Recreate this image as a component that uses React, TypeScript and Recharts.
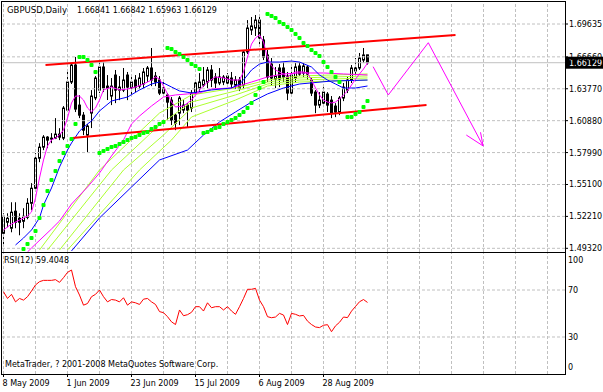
import React from 'react';
import { ComposedChart, Bar, Line, Scatter, XAxis, YAxis, ReferenceLine } from 'recharts';

const FONT = '"DejaVu Sans", Verdana, sans-serif';

// ---- candles (GBPUSD daily, bar index 0 = 8 May 2009) ----
const openP = [1.5068,1.5168,1.5114,1.5268,1.5204,1.5177,1.5213,1.5340,1.5476,1.5748,1.5848,1.5939,1.5921,1.5930,1.5966,1.5930,1.6184,1.6438,1.6592,1.6229,1.6138,1.5957,1.6157,1.6294,1.6365,1.6574,1.6383,1.6311,1.6501,1.6365,1.6365,1.6501,1.6383,1.6456,1.6401,1.6420,1.6492,1.6565,1.6492,1.6456,1.6338,1.6320,1.6274,1.6138,1.6156,1.6184,1.6229,1.6202,1.6338,1.6383,1.6410,1.6438,1.6547,1.6483,1.6429,1.6438,1.6492,1.6474,1.6410,1.6456,1.6410,1.6710,1.6909,1.6927,1.6999,1.6819,1.6683,1.6601,1.6465,1.6565,1.6565,1.6492,1.6338,1.6474,1.6583,1.6519,1.6574,1.6456,1.6347,1.6229,1.6247,1.6329,1.6274,1.6220,1.6166,1.6293,1.6365,1.6456,1.6538,1.6565,1.6637,1.66841];
const highP = [1.5249,1.5249,1.5349,1.5349,1.5249,1.5295,1.5386,1.5522,1.5794,1.5884,1.5957,1.5948,1.5975,1.6111,1.6020,1.6220,1.6547,1.6619,1.6665,1.6320,1.6166,1.6057,1.6365,1.6492,1.6619,1.6619,1.6501,1.6474,1.6547,1.6492,1.6565,1.6529,1.6483,1.6501,1.6519,1.6565,1.6583,1.6746,1.6529,1.6492,1.6438,1.6338,1.6302,1.6156,1.6311,1.6274,1.6247,1.6365,1.6456,1.6519,1.6574,1.6574,1.6592,1.6519,1.6565,1.6501,1.6519,1.6529,1.6492,1.6483,1.6728,1.6999,1.7027,1.7045,1.7045,1.6855,1.6728,1.6655,1.6574,1.6601,1.6619,1.6529,1.6583,1.6610,1.6619,1.6610,1.6592,1.6474,1.6365,1.6347,1.6392,1.6347,1.6311,1.6247,1.6311,1.6429,1.6483,1.6592,1.6655,1.6701,1.6746,1.66842];
const lowP = [1.4968,1.5123,1.5077,1.5114,1.5050,1.5114,1.5195,1.5277,1.5458,1.5712,1.5821,1.5839,1.5884,1.5921,1.5912,1.5912,1.6166,1.6420,1.6166,1.6111,1.5957,1.5803,1.6021,1.6274,1.6338,1.6347,1.6275,1.6229,1.6247,1.6274,1.6347,1.6274,1.6320,1.6347,1.6374,1.6383,1.6438,1.6401,1.6401,1.6320,1.6311,1.6093,1.6048,1.6002,1.6048,1.6156,1.6030,1.6166,1.6302,1.6347,1.6392,1.6383,1.6392,1.6383,1.6410,1.6410,1.6401,1.6383,1.6374,1.6356,1.6374,1.6692,1.6864,1.6855,1.6773,1.6637,1.6438,1.6410,1.6383,1.6392,1.6438,1.6274,1.6311,1.6438,1.6492,1.6483,1.6456,1.6311,1.6156,1.6202,1.6211,1.6166,1.6111,1.6120,1.6138,1.6265,1.6338,1.6429,1.6510,1.6547,1.6610,1.65963];
const closeP = [1.5222,1.5204,1.5259,1.5168,1.5168,1.5222,1.5340,1.5476,1.5748,1.5848,1.5939,1.5912,1.5930,1.5966,1.5939,1.6202,1.6438,1.6592,1.6193,1.6138,1.6002,1.6039,1.6311,1.6474,1.6574,1.6383,1.6401,1.6401,1.6365,1.6392,1.6456,1.6392,1.6438,1.6392,1.6474,1.6529,1.6565,1.6456,1.6438,1.6338,1.6383,1.6256,1.6093,1.6066,1.6293,1.6229,1.6184,1.6338,1.6429,1.6438,1.6456,1.6547,1.6456,1.6429,1.6483,1.6483,1.6429,1.6420,1.6456,1.6383,1.6710,1.6927,1.6946,1.6999,1.6837,1.6664,1.6483,1.6474,1.6492,1.6465,1.6483,1.6338,1.6501,1.6574,1.6510,1.6583,1.6510,1.6338,1.6229,1.6274,1.6347,1.6229,1.6156,1.6166,1.6293,1.6392,1.6456,1.6565,1.6565,1.6655,1.6683,1.66129];

// ---- indicator lines: [bar index, price] ----
const maFast = [[0,1.5098],[2,1.5152],[4,1.5188],[6,1.5225],[7,1.5261],[8,1.5388],[9,1.5569],[10,1.5732],[11,1.5859],[12,1.5913],[13,1.5931],[14,1.5958],[15,1.6004],[16,1.6112],[17,1.6248],[18,1.6311],[19,1.6311],[20,1.6275],[21,1.6203],[22,1.6167],[23,1.6203],[24,1.6275],[25,1.6366],[27,1.6393],[29,1.6366],[31,1.6375],[33,1.6393],[35,1.6420],[37,1.6456],[38,1.6484],[39,1.6465],[40,1.6402],[41,1.6330],[42,1.6257],[43,1.6212],[45,1.6221],[47,1.6275],[49,1.6366],[51,1.6438],[53,1.6484],[55,1.6475],[57,1.6456],[59,1.6456],[60,1.6529],[61,1.6665],[62,1.6782],[63,1.6837],[64,1.6864],[65,1.6801],[66,1.6656],[67,1.6583],[68,1.6547],[70,1.6511],[71,1.6484],[72,1.6511],[73,1.6529],[75,1.6529],[76,1.6520],[77,1.6456],[78,1.6384],[79,1.6321],[80,1.6275],[81,1.6257],[82,1.6248],[83,1.6257],[84,1.6284],[85,1.6321],[86,1.6357],[87,1.6411],[88,1.6465],[89,1.6511],[90,1.6556],[91,1.6610]];
const maBlueFast = [[3,1.4962],[5,1.5025],[7,1.5098],[9,1.5207],[10,1.5324],[12,1.5478],[14,1.5668],[16,1.5822],[17,1.5886],[19,1.5994],[21,1.6058],[22,1.6085],[24,1.6176],[27,1.6266],[31,1.6302],[34,1.6366],[37,1.6420],[39,1.6438],[40,1.6429],[42,1.6393],[44,1.6357],[47,1.6339],[52,1.6366],[57,1.6384],[59,1.6420],[60,1.6456],[62,1.6547],[64,1.6601],[66,1.6619],[69,1.6619],[72,1.6628],[74,1.6619],[77,1.6574],[79,1.6502],[81,1.6456],[83,1.6420],[85,1.6384],[88,1.6384],[91,1.6402]];
const maSlowMagenta = [[6,1.4899],[7,1.4935],[12,1.5107],[14,1.5179],[17,1.5333],[21,1.5487],[24,1.5614],[27,1.5768],[30,1.5913],[32,1.6058],[34,1.6130],[37,1.6221],[40,1.6302],[43,1.6321],[46,1.6330],[49,1.6339],[52,1.6375],[57,1.6384],[62,1.6438],[66,1.6484],[70,1.6511],[74,1.6520],[80,1.6520],[85,1.6511],[91,1.6502]];
const maSlowBlue = [[17,1.4908],[24,1.5207],[32,1.5487],[39,1.5732],[46,1.5822],[50,1.5958],[54,1.6076],[58,1.6167],[62,1.6257],[66,1.6330],[70,1.6384],[74,1.6420],[82,1.6447],[91,1.6456]];
const ygA = [[9,1.4917],[24,1.5641],[39,1.6157],[47,1.6321],[58,1.6384],[66,1.6456],[74,1.6493],[91,1.6511]];
const ygB = [[11,1.4917],[27,1.5641],[39,1.6049],[47,1.6257],[58,1.6357],[66,1.6438],[74,1.6475],[91,1.6493]];
const ygC = [[14,1.4917],[30,1.5641],[40,1.5958],[47,1.6203],[58,1.6321],[66,1.6420],[74,1.6456],[91,1.6475]];
const ygD = [[16,1.4917],[34,1.5641],[42,1.5913],[47,1.6121],[58,1.6275],[66,1.6402],[74,1.6438],[91,1.6456]];

// ---- parabolic SAR: [bar index, price] ----
const sarPts = [[5,1.4926],[6,1.4971],[7,1.5025],[8,1.5089],[9,1.5207],[10,1.5324],[11,1.5451],[12,1.5551],[13,1.5632],[14,1.5723],[15,1.5795],[16,1.5859],[17,1.5922],[18,1.6058],
[19,1.6665],[20,1.6665],[21,1.6637],[22,1.6592],[23,1.6529],
[24,1.5795],[25,1.5813],[26,1.5831],[27,1.5850],[28,1.5859],[29,1.5877],[30,1.5895],[31,1.5913],[32,1.5931],[33,1.5940],[34,1.5958],[35,1.5976],[36,1.5985],[37,1.6013],[38,1.6031],[39,1.6058],[40,1.6076],
[41,1.6746],[42,1.6737],[43,1.6710],[44,1.6692],[45,1.6665],[46,1.6637],[47,1.6601],[48,1.6583],[49,1.6556],
[50,1.5976],[51,1.5985],[52,1.6004],[53,1.6022],[54,1.6031],[55,1.6058],[56,1.6076],[57,1.6094],[58,1.6112],[59,1.6139],[60,1.6167],[61,1.6203],[62,1.6248],[63,1.6321],[64,1.6384],[65,1.6438],
[66,1.7054],[67,1.7036],[68,1.7018],[69,1.6982],[70,1.6964],[71,1.6936],[72,1.6909],[73,1.6873],[74,1.6837],[75,1.6792],[76,1.6764],[77,1.6728],[78,1.6701],[79,1.6674],[80,1.6619],[81,1.6574],[82,1.6529],[83,1.6484],[84,1.6438],
[86,1.6121],[87,1.6121],[88,1.6148],[89,1.6167],[90,1.6212],[91,1.6266]];

// ---- channel and forecast ----
const channelUpper = [[10.5,1.6592],[113,1.6864]];
const channelLower = [[17.25,1.5931],[105.75,1.6230]];
const forecastPath = [[92.4,1.6577],[96.2,1.6321],[106.2,1.6794],[119.9,1.5859]];
const arrowWingA = [[115.7,1.5958],[119.9,1.5859]];
const arrowWingB = [[119.25,1.5983],[119.9,1.5859]];

// ---- RSI(12) ----
const rsiValues = [68.5,62.8,66.3,59.9,62.8,61.4,64.3,69.1,74.3,77.1,78.2,78.2,78.2,78.8,76.5,80.5,85.0,87.0,72.8,65.7,57.1,58.5,64.3,66.3,70.0,64.3,59.9,61.9,61.4,59.9,63.4,57.1,59.9,59.1,57.7,62.2,62.8,59.9,57.7,51.6,50.7,47.3,42.9,40.6,53.0,48.1,49.0,51.0,55.8,55.8,52.1,59.1,54.9,55.8,55.8,53.0,55.8,52.1,49.3,55.8,62.8,70.6,70.6,71.4,61.4,55.8,47.3,46.4,47.0,50.1,48.7,40.6,50.1,49.3,47.9,48.4,43.5,40.6,38.5,38.0,40.0,40.5,34.5,39.5,42.5,47.0,46.5,52.0,56.0,60.0,61.9,59.4048];

// ---- axes ----
const priceTicks = [1.4932, 1.5221, 1.551, 1.5799, 1.6088, 1.6377, 1.6666, 1.69635];
const gridIdx = [0,8,16,24,32,40,48,56,64,72,80,88,96,104,112,120,128,136];
const dateIdx = [0,16,32,48,64,80];
const dateLabels = ['8 May 2009','1 Jun 2009','23 Jun 2009','15 Jul 2009','6 Aug 2009','28 Aug 2009'];
const rsiTicks = [0,30,70,100];
const rsiLevels = [30,70];

const X_DOMAIN: [number, number] = [-0.375, 140.375];
const PRICE_DOMAIN: [number, number] = [1.48985, 1.71628];
const RSI_DOMAIN: [number, number] = [-1.49, 101.49];

const toPts = (arr: number[][]) => arr.map(([i, v]) => ({ i, v }));
const candles = openP.map((o, i) => ({ i, o, h: highP[i], l: lowP[i], c: closeP[i], range: [lowP[i], highP[i]] }));
const rsiData = rsiValues.map((v, i) => ({ i, v }));
const lastClose = closeP[closeP.length - 1];

const GRID = '#c0c0c0';
const DASH = '3 2';

const Candle = (props: any) => {
  const { x, y, width, height, payload } = props;
  if (x == null || !isFinite(x) || !payload) return null;
  const { o, h, l, c } = payload;
  const top = Math.min(y, y + height);
  const bot = Math.max(y, y + height);
  const span = h - l;
  const py = (v: number) => (span === 0 ? top : top + ((h - v) / span) * (bot - top));
  const cx = Math.floor(x + width / 2) + 0.5;
  const bTop = py(Math.max(o, c));
  const bBot = py(Math.min(o, c));
  const bull = c >= o;
  return (
    <g>
      <line x1={cx} x2={cx} y1={top} y2={bot} stroke="#000" strokeWidth={1} />
      <rect x={cx - 1} y={bTop} width={2} height={Math.max(bBot - bTop, 0.5)} fill={bull ? '#fff' : '#000'} stroke="#000" strokeWidth={1} />
    </g>
  );
};

const SarDot = (props: any) => {
  const { cx, cy } = props;
  if (cx == null || cy == null) return null;
  return <rect x={cx - 2} y={cy - 2} width={4} height={4} rx={1} fill="#00ff00" />;
};

const PriceTick = (props: any) => {
  const { x, y, payload } = props;
  return (
    <g>
      <line x1={x} x2={x + 3} y1={y} y2={y} stroke="#000" />
      <text x={x + 4} y={y} dy={3} fontSize={8} fontFamily={FONT} fill="#000">{Number(payload.value).toFixed(5)}</text>
    </g>
  );
};

const PriceTag = (props: any) => {
  const vb = props.viewBox || {};
  const x = (vb.x || 0) + (vb.width || 0);
  const y = vb.y || 0;
  return (
    <g>
      <rect x={x + 1} y={y - 6} width={40} height={12} fill="#000" />
      <text x={x + 4} y={y} dy={3} fontSize={8} fontFamily={FONT} fill="#fff">{lastClose.toFixed(5)}</text>
    </g>
  );
};

const RsiTick = (props: any) => {
  const { x, y, payload } = props;
  const v = payload.value;
  const dy = v === 100 ? 8 : v === 0 ? -2 : 3;
  return <text x={x + 3} y={y} dy={dy} fontSize={8} fontFamily={FONT} fill="#000">{v}</text>;
};

const DateTick = (props: any) => {
  const { x, y, payload } = props;
  const k = dateIdx.indexOf(payload.value);
  if (k < 0) return null;
  return (
    <g>
      <line x1={x} x2={x} y1={y} y2={y + 3} stroke="#000" />
      <text x={x - 1} y={y + 12} fontSize={8} fontFamily={FONT} fill="#000">{dateLabels[k]}</text>
    </g>
  );
};

const lineProps = { dot: false, activeDot: false, isAnimationActive: false, type: 'linear' as const, strokeWidth: 1 };

export default function App() {
  return (
    <div style={{ position: 'fixed', left: 0, top: 0, width: 603, height: 392, background: '#fff', overflow: 'hidden' }}>
      <div style={{ position: 'absolute', left: 0, top: 0 }}>
        <ComposedChart width={603} height={252} data={candles} margin={{ top: 2, right: 0, bottom: 0, left: 2 }}>
          <XAxis type="number" dataKey="i" domain={X_DOMAIN} ticks={gridIdx} hide allowDataOverflow />
          <YAxis orientation="right" type="number" domain={PRICE_DOMAIN} ticks={priceTicks} interval={0} width={38}
            allowDataOverflow axisLine={false} tickLine={false} tickSize={0} tickMargin={0} tick={<PriceTick />} />
          {priceTicks.map((v) => (
            <ReferenceLine key={'h' + v} y={v} stroke={GRID} strokeDasharray={DASH} />
          ))}
          {gridIdx.map((t) => (
            <ReferenceLine key={'v' + t} x={t} stroke={GRID} strokeDasharray={DASH} />
          ))}
          <ReferenceLine y={lastClose} stroke={GRID} label={<PriceTag />} />
          <Line data={toPts(ygD)} dataKey="v" stroke="#adff2f" {...lineProps} />
          <Line data={toPts(ygC)} dataKey="v" stroke="#adff2f" {...lineProps} />
          <Line data={toPts(ygB)} dataKey="v" stroke="#adff2f" {...lineProps} />
          <Line data={toPts(ygA)} dataKey="v" stroke="#adff2f" {...lineProps} />
          <Line data={toPts(maSlowBlue)} dataKey="v" stroke="#0000ff" {...lineProps} />
          <Line data={toPts(maSlowMagenta)} dataKey="v" stroke="#ff00ff" {...lineProps} />
          <Bar dataKey="range" shape={<Candle />} barSize={3} isAnimationActive={false} />
          <Line data={toPts(maBlueFast)} dataKey="v" stroke="#0000ff" {...lineProps} />
          <Line data={toPts(maFast)} dataKey="v" stroke="#ff00ff" {...lineProps} />
          <Line data={toPts(channelUpper)} dataKey="v" stroke="#ff0000" {...lineProps} strokeWidth={2} />
          <Line data={toPts(channelLower)} dataKey="v" stroke="#ff0000" {...lineProps} strokeWidth={2} />
          <Line data={toPts(forecastPath)} dataKey="v" stroke="#ff00ff" {...lineProps} />
          <Line data={toPts(arrowWingA)} dataKey="v" stroke="#ff00ff" {...lineProps} />
          <Line data={toPts(arrowWingB)} dataKey="v" stroke="#ff00ff" {...lineProps} />
          <Scatter data={toPts(sarPts)} dataKey="v" shape={<SarDot />} isAnimationActive={false} />
        </ComposedChart>
      </div>
      <div style={{ position: 'absolute', left: 0, top: 252 }}>
        <ComposedChart width={603} height={140} data={rsiData} margin={{ top: 1, right: 0, bottom: 0, left: 2 }}>
          <XAxis type="number" dataKey="i" domain={X_DOMAIN} ticks={gridIdx} interval={0} height={18} allowDataOverflow
            axisLine={false} tickLine={false} tickSize={0} tickMargin={0} tick={<DateTick />} />
          <YAxis orientation="right" type="number" domain={RSI_DOMAIN} ticks={rsiTicks} interval={0} width={38}
            allowDataOverflow axisLine={false} tickLine={false} tickSize={0} tickMargin={0} tick={<RsiTick />} />
          {rsiLevels.map((v) => (
            <ReferenceLine key={'r' + v} y={v} stroke={GRID} strokeDasharray={DASH} />
          ))}
          {gridIdx.map((t) => (
            <ReferenceLine key={'rv' + t} x={t} stroke={GRID} strokeDasharray={DASH} />
          ))}
          <Line dataKey="v" stroke="#ff0000" {...lineProps} />
        </ComposedChart>
      </div>
      <div style={{ position: 'absolute', left: 1, top: 1, width: 565, height: 252, border: '1px solid #000', boxSizing: 'border-box', pointerEvents: 'none' }} />
      <div style={{ position: 'absolute', left: 1, top: 252, width: 565, height: 123, border: '1px solid #000', boxSizing: 'border-box', pointerEvents: 'none' }} />
      <div style={{ position: 'absolute', left: 7, top: 5, fontFamily: FONT, fontSize: 8.5, lineHeight: '11px', whiteSpace: 'pre', color: '#000' }}>GBPUSD,Daily</div>
      <div style={{ position: 'absolute', left: 77, top: 5, fontFamily: FONT, fontSize: 8, lineHeight: '11px', whiteSpace: 'pre', color: '#000' }}>1.66841 1.66842 1.65963 1.66129</div>
      <div style={{ position: 'absolute', left: 4, top: 255, fontFamily: FONT, fontSize: 8, lineHeight: '11px', whiteSpace: 'pre', color: '#000' }}>RSI(12) 59.4048</div>
      <div style={{ position: 'absolute', left: 5, top: 359, fontFamily: FONT, fontSize: 8, lineHeight: '11px', whiteSpace: 'pre', color: '#000' }}>MetaTrader, ? 2001-2008 MetaQuotes Software Corp.</div>
    </div>
  );
}
